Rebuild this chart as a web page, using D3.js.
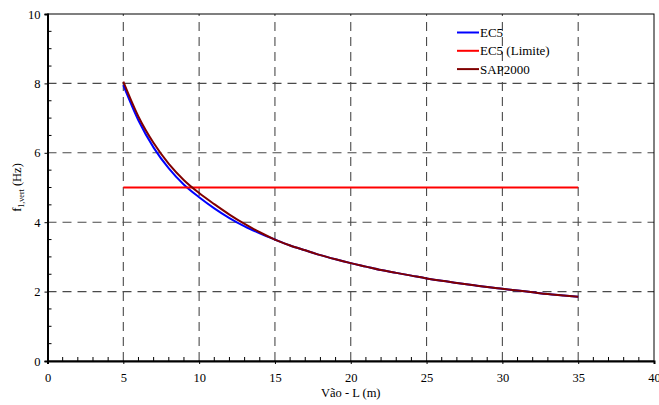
<!DOCTYPE html>
<html>
<head>
<meta charset="utf-8">
<script src="https://cdn.jsdelivr.net/npm/d3@7"></script>
<style>
  html, body { margin: 0; padding: 0; background: #fff; }
  svg { display: block; }
  svg text { font-family: "Liberation Serif", "Times New Roman", Times, "DejaVu Serif", serif !important; fill: #000; }
</style>
</head>
<body>
<svg id="chart" width="659" height="405"></svg>
<script>
// Span L (m)
const spans = [5, 6, 7, 8, 9, 10, 11, 12, 13, 14, 15, 16, 17, 18, 19, 20,
               21, 22, 23, 24, 25, 26, 27, 28, 29, 30, 31, 32, 33, 34, 35];
// First vertical frequency from EC5 (Hz)
const ec5 = [7.95, 6.93, 6.15, 5.55, 5.08, 4.72, 4.40, 4.12, 3.88, 3.68, 3.50, 3.33, 3.19, 3.05, 2.93, 2.82,
             2.72, 2.62, 2.54, 2.46, 2.38, 2.31, 2.25, 2.19, 2.13, 2.08, 2.03, 1.98, 1.93, 1.89, 1.85];
// First vertical frequency from SAP2000 model (Hz)
const sap2000 = [8.05, 7.04, 6.28, 5.68, 5.21, 4.84, 4.52, 4.22, 3.95, 3.71, 3.50, 3.33, 3.19, 3.05, 2.93, 2.82,
                 2.72, 2.62, 2.54, 2.46, 2.38, 2.31, 2.25, 2.19, 2.13, 2.08, 2.03, 1.98, 1.93, 1.89, 1.85];
// EC5 comfort limit (Hz)
const limitSpans = [5, 35];
const limitValues = [5, 5];

const xTicks = [0, 5, 10, 15, 20, 25, 30, 35, 40];
const yTicks = [0, 2, 4, 6, 8, 10];
const legendLabels = ["EC5", "EC5 (Limite)", "SAP2000"];
const colors = ["#0000ff", "#ff0000", "#800000"];

const svg = d3.select("#chart");
const mLeft = 47.5, mRight = 654, mTop = 14, mBottom = 361;

const x = d3.scaleLinear().domain([0, 40]).range([mLeft, mRight]);
const y = d3.scaleLinear().domain([0, 10]).range([mBottom, mTop]);

// dashed grid
const grid = svg.append("g").attr("stroke", "#4a4a4a").attr("stroke-width", 1.1)
  .attr("stroke-dasharray", "9,6").attr("fill", "none");
xTicks.filter(v => v > 0 && v < 40).forEach(v => {
  grid.append("line").attr("x1", x(v)).attr("x2", x(v)).attr("y1", mBottom).attr("y2", mTop);
});
yTicks.filter(v => v > 0 && v < 10).forEach(v => {
  grid.append("line").attr("x1", mLeft).attr("x2", mRight).attr("y1", y(v)).attr("y2", y(v));
});

// frame
svg.append("rect").attr("x", mLeft).attr("y", mTop)
  .attr("width", mRight - mLeft).attr("height", mBottom - mTop)
  .attr("fill", "none").attr("stroke", "#000").attr("stroke-width", 1);

// axes
const xAxis = svg.append("g").attr("transform", `translate(0,${mBottom})`)
  .call(d3.axisBottom(x).tickValues(xTicks).tickSize(3).tickPadding(9).tickFormat(d3.format("d")));
const yAxis = svg.append("g").attr("transform", `translate(${mLeft},0)`)
  .call(d3.axisLeft(y).tickValues(yTicks).tickSize(3).tickPadding(4).tickFormat(d3.format("d")));
[xAxis, yAxis].forEach(a => {
  a.attr("font-family", null);
  a.select(".domain").attr("stroke", "#000").attr("stroke-width", 2);
  a.selectAll(".tick line").attr("stroke", "#000").attr("stroke-width", 1);
  a.selectAll(".tick text").attr("font-size", 12.5);
});

// minor ticks, pointing inward
const minorX = d3.range(1, 40).filter(v => v % 5 !== 0);
svg.append("g").selectAll("line").data(minorX).join("line")
  .attr("x1", d => x(d)).attr("x2", d => x(d)).attr("y1", mBottom).attr("y2", mBottom - 4)
  .attr("stroke", "#000").attr("stroke-width", 1);
const minorY = d3.range(0.5, 10, 0.5).filter(v => v % 2 !== 0);
svg.append("g").selectAll("line").data(minorY).join("line")
  .attr("x1", mLeft).attr("x2", mLeft + 4).attr("y1", d => y(d)).attr("y2", d => y(d))
  .attr("stroke", "#000").attr("stroke-width", 1);

// series
const line = d3.line().x(d => x(d[0])).y(d => y(d[1])).curve(d3.curveMonotoneX);
const series = [
  d3.zip(spans, ec5),
  d3.zip(limitSpans, limitValues),
  d3.zip(spans, sap2000)
];
series.forEach((s, i) => {
  svg.append("path").datum(s).attr("d", line)
    .attr("fill", "none").attr("stroke", colors[i]).attr("stroke-width", 2);
});

// legend
const legend = svg.append("g");
legendLabels.forEach((lab, i) => {
  const ly = 32.5 + i * 18.3;
  legend.append("line").attr("x1", 457).attr("x2", 479).attr("y1", ly).attr("y2", ly)
    .attr("stroke", colors[i]).attr("stroke-width", 2);
  legend.append("text").attr("x", 480).attr("y", ly).attr("dy", "0.35em")
    .attr("font-size", 13).text(lab);
});

// axis titles
svg.append("text").attr("x", (mLeft + mRight) / 2).attr("y", 397)
  .attr("text-anchor", "middle").attr("font-size", 12.5).text("Vão - L (m)");

const yt = svg.append("text").attr("transform", `translate(21,${(mTop + mBottom) / 2}) rotate(-90)`)
  .attr("text-anchor", "middle").attr("font-size", 12.5);
yt.append("tspan").text("f");
yt.append("tspan").attr("font-size", 8).attr("dy", 3).text("1,vert");
yt.append("tspan").attr("dy", -3).text(" (Hz)");
</script>
</body>
</html>
